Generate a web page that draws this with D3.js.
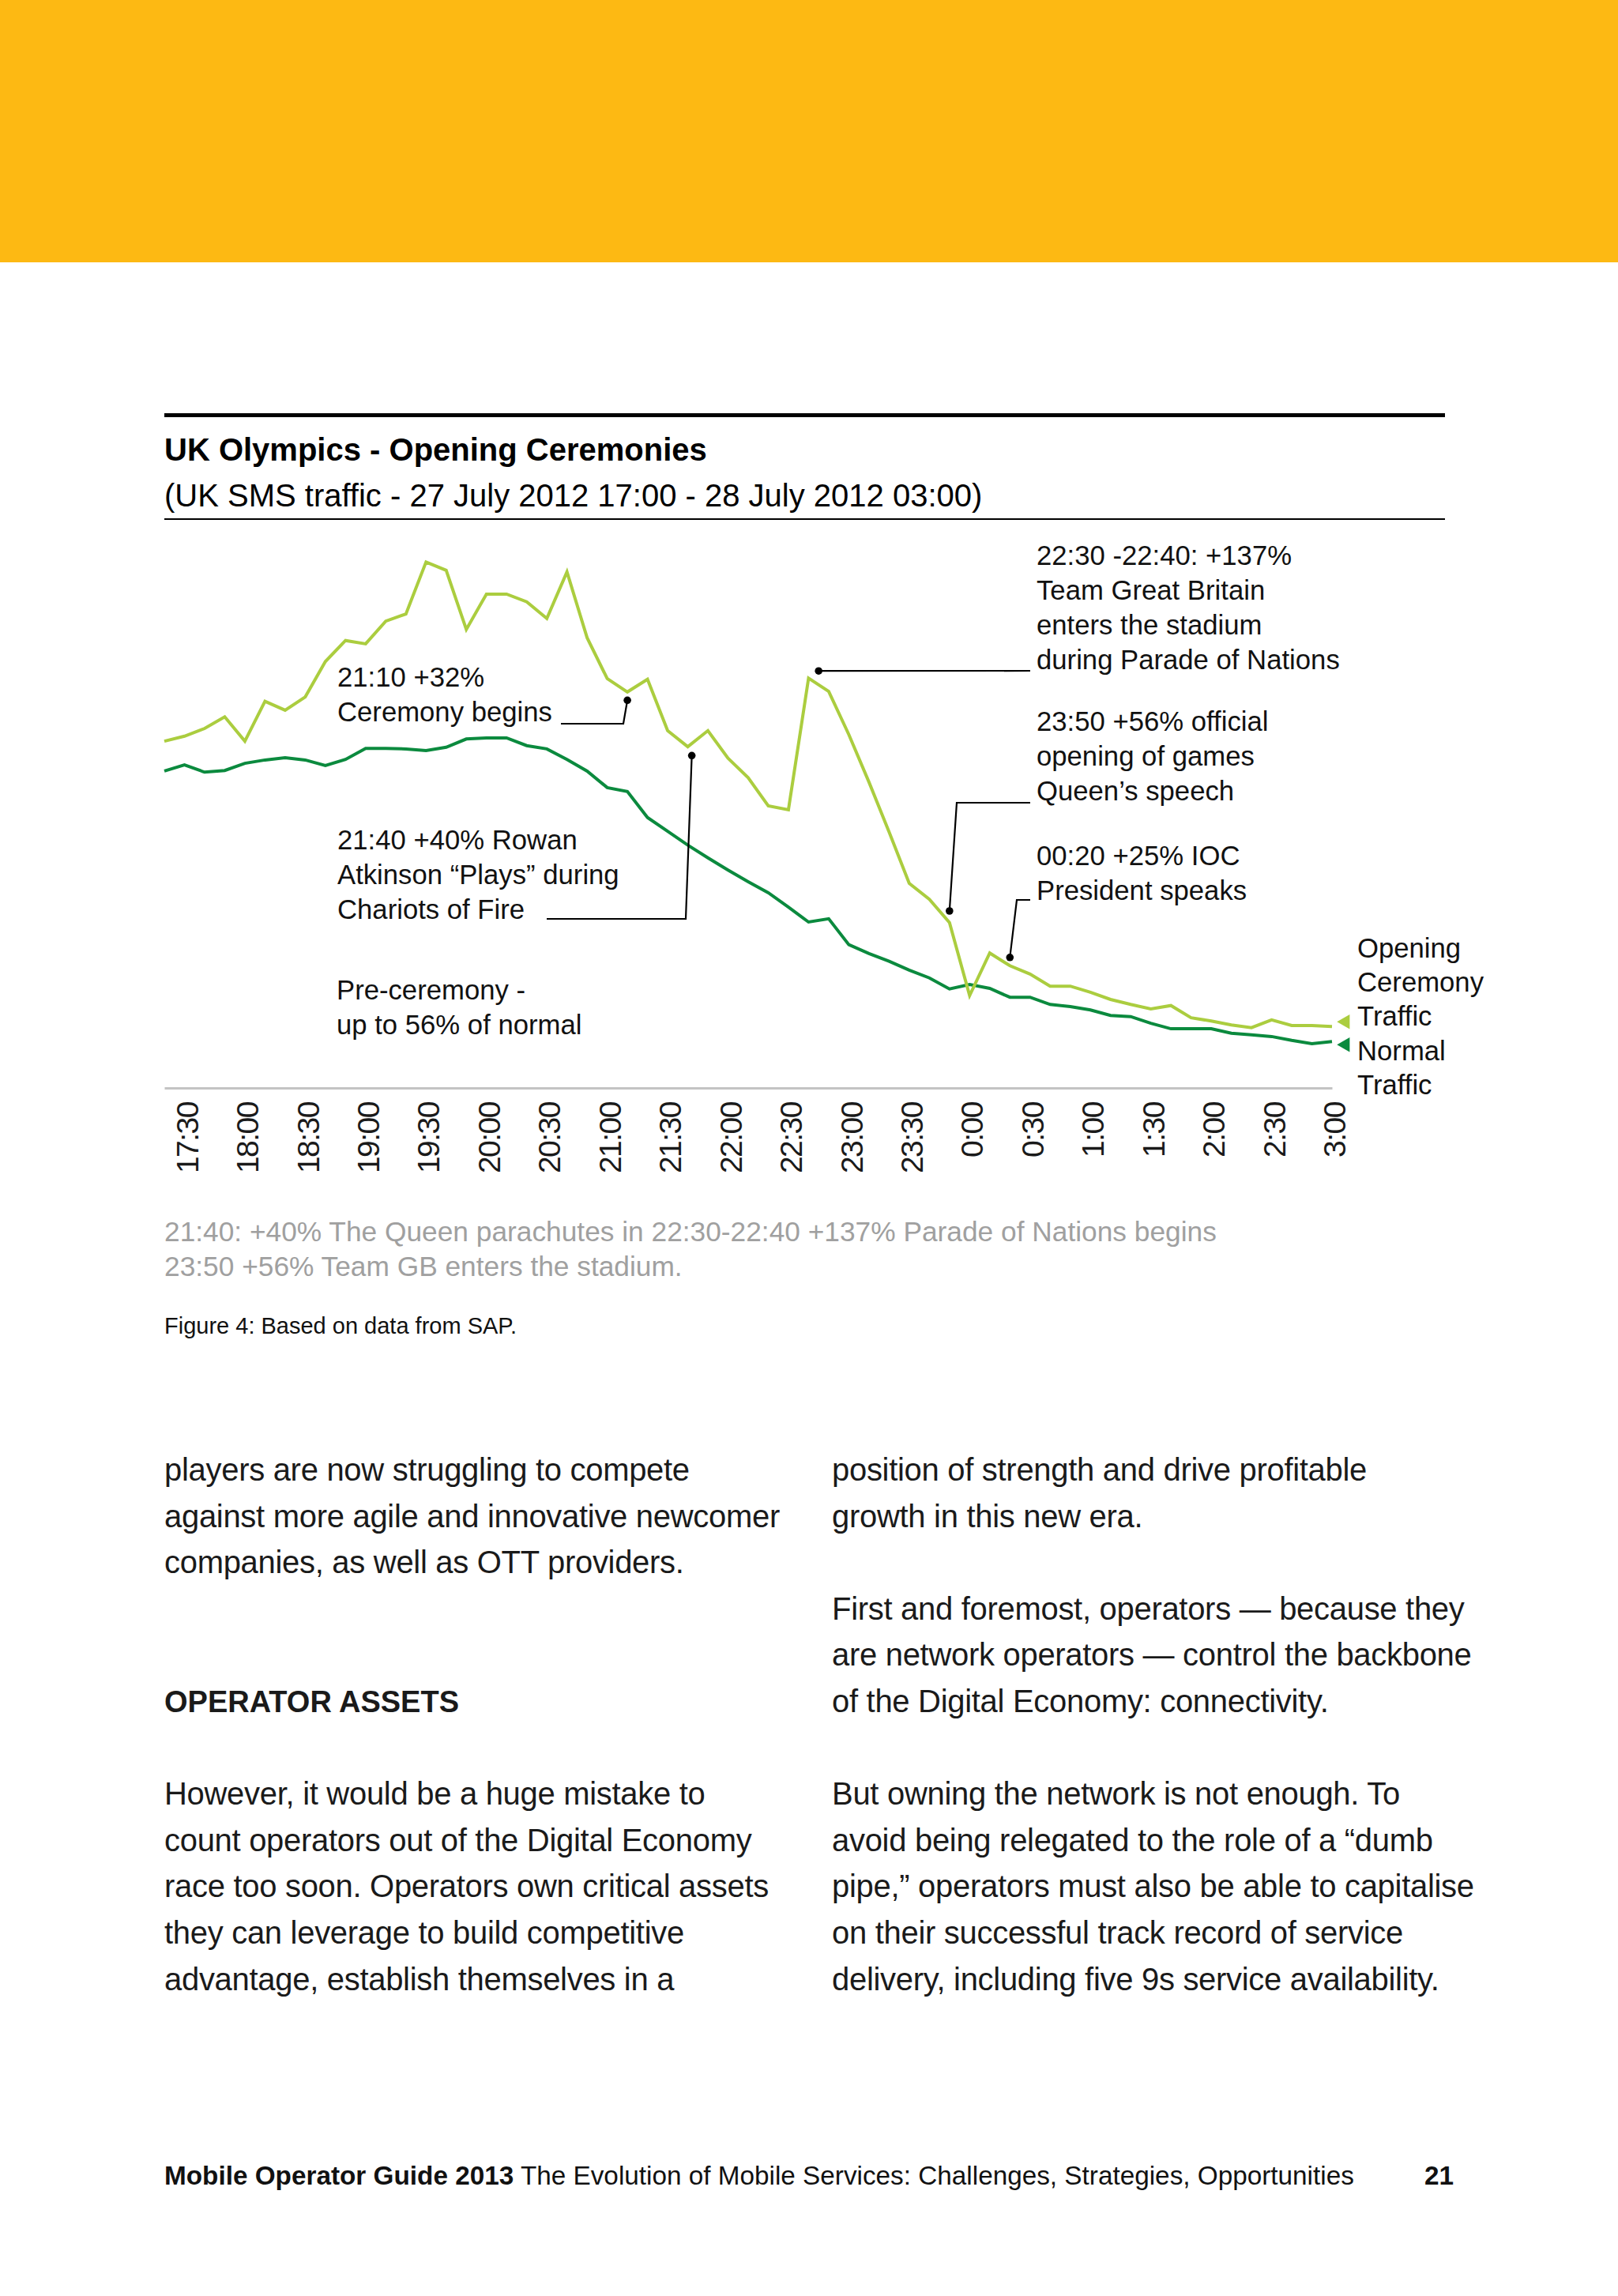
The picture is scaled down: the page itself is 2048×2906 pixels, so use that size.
<!DOCTYPE html>
<html>
<head>
<meta charset="utf-8">
<script src="https://cdn.jsdelivr.net/npm/d3@7"></script>
<style>
  body { margin: 0; background: #fff; }
  svg text { font-family: "Liberation Sans", Arial, sans-serif; }
</style>
</head>
<body>
<svg id="page" width="2048" height="2906"></svg>
<script>
// time of each sample (10 min steps), 27 Jul 17:20 -> 28 Jul 03:00
var times = ["17:20","17:30","17:40","17:50","18:00","18:10","18:20","18:30","18:40","18:50",
  "19:00","19:10","19:20","19:30","19:40","19:50","20:00","20:10","20:20","20:30",
  "20:40","20:50","21:00","21:10","21:20","21:30","21:40","21:50","22:00","22:10",
  "22:20","22:30","22:40","22:50","23:00","23:10","23:20","23:30","23:40","23:50",
  "0:00","0:10","0:20","0:30","0:40","0:50","1:00","1:10","1:20","1:30",
  "1:40","1:50","2:00","2:10","2:20","2:30","2:40","2:50","3:00"];

// SMS traffic index (no y axis in the original)
var openingTraffic = [62.7,63.6,65.0,67.1,62.7,69.9,68.3,70.7,77.1,80.9,
  80.3,84.4,85.7,95.1,93.6,82.9,89.3,89.3,87.9,84.9,
  93.3,81.4,74.0,71.6,73.9,64.6,61.7,64.6,59.6,56.1,
  51.0,50.3,74.1,71.7,63.9,55.3,46.3,37.0,34.1,29.9,
  16.7,24.4,22.1,20.6,18.4,18.4,17.3,16.0,15.1,14.3,
  14.9,12.7,12.1,11.4,10.9,12.3,11.3,11.3,11.1];
var normalTraffic = [57.3,58.4,57.1,57.4,58.7,59.3,59.7,59.3,58.3,59.4,
  61.4,61.4,61.3,61.0,61.6,63.1,63.3,63.3,61.9,61.3,
  59.4,57.3,54.3,53.6,48.9,46.4,43.9,41.6,39.4,37.3,
  35.3,32.7,30.0,30.6,25.9,24.3,22.9,21.3,19.9,17.9,
  18.7,18.0,16.4,16.4,15.1,14.7,14.1,13.1,12.9,11.7,
  10.7,10.7,10.7,9.9,9.6,9.3,8.6,8.0,8.4];

var tickLabels = ["17:30","18:00","18:30","19:00","19:30","20:00","20:30","21:00","21:30","22:00",
  "22:30","23:00","23:30","0:00","0:30","1:00","1:30","2:00","2:30","3:00"];

// annotated moments: time and value of the marker dot
var noteTimes = ["21:10","21:42","22:45","23:50","0:20"];
var noteValues = [70.1, 60.1, 75.4, 32.0, 23.6];
var noteTexts = [
  ["21:10 +32%", "Ceremony begins"],
  ["21:40 +40% Rowan", "Atkinson \u201cPlays\u201d during", "Chariots of Fire"],
  ["22:30 -22:40: +137%", "Team Great Britain", "enters the stadium", "during Parade of Nations"],
  ["23:50 +56% official", "opening of games", "Queen\u2019s speech"],
  ["00:20 +25% IOC", "President speaks"]
];
var legendLabels = ["Opening", "Ceremony", "Traffic", "Normal", "Traffic"];

var svg = d3.select("#page");
var lightGreen = "#abcd3f", darkGreen = "#0b8a3e";

function parseT(s){
	var p = s.split(":");
	var h = +p[0], m = +p[1];
	var day = h < 12 ? 28 : 27;
	return new Date(2012, 6, day, h, m);
}

// ---- page header band and title
svg.append("rect").attr("x",0).attr("y",0).attr("width",2048).attr("height",332).attr("fill","#fdb913");
svg.append("rect").attr("x",208).attr("y",523).attr("width",1621).attr("height",5).attr("fill","#000");
svg.append("text").attr("x",208).attr("y",583).attr("font-size",40).attr("font-weight","bold")
	.text("UK Olympics - Opening Ceremonies");
svg.append("text").attr("x",208).attr("y",641).attr("font-size",40)
	.text("(UK SMS traffic - 27 July 2012 17:00 - 28 July 2012 03:00)");
svg.append("rect").attr("x",208).attr("y",656).attr("width",1621).attr("height",2).attr("fill","#000");

// ---- scales
var x = d3.scaleTime().domain([parseT(times[0]), parseT(times[times.length-1])]).range([208, 1686]);
var y = d3.scaleLinear().domain([0, 100]).range([1377, 677]);

// ---- axis
var axis = d3.axisBottom(x)
	.tickValues(tickLabels.map(parseT))
	.tickFormat(function(d, i){ return tickLabels[i]; })
	.tickSize(0);
var gAxis = svg.append("g").attr("transform","translate(0," + y(0) + ")").call(axis);
gAxis.select(".domain").attr("stroke","#c4c4c4").attr("stroke-width",3);
gAxis.selectAll("text")
	.attr("transform","rotate(-90)")
	.attr("x",-18).attr("y",3).attr("dy","0.35em")
	.attr("text-anchor","end")
	.attr("font-size",39).attr("letter-spacing","-1.5px")
	.attr("fill","#1a1a1a")
	.style("font-family","'Liberation Sans', Arial, sans-serif");

// ---- lines
var line = d3.line()
	.x(function(d, i){ return x(parseT(times[i])); })
	.y(function(d){ return y(d); });

svg.append("path").datum(normalTraffic).attr("d", line)
	.attr("fill","none").attr("stroke",darkGreen).attr("stroke-width",4).attr("stroke-linejoin","miter");
svg.append("path").datum(openingTraffic).attr("d", line)
	.attr("fill","none").attr("stroke",lightGreen).attr("stroke-width",4).attr("stroke-linejoin","miter");

// ---- annotations
var textPos = [
	{x:427, y:869},
	{x:427, y:1075},
	{x:1312, y:715},
	{x:1312, y:925},
	{x:1312, y:1095}
];
// elbows of the leader lines (after the dot)
var leaders = [
	[[789,916],[710,916]],
	[[868,1163],[692,1163]],
	[[1304,849]],
	[[1211,1016],[1304,1016]],
	[[1287,1139],[1304,1139]]
];

noteTimes.forEach(function(t, i){
	var cx = x(parseT(t)), cy = y(noteValues[i]);
	var pts = [[cx, cy]].concat(leaders[i]);
	svg.append("path").attr("d", d3.line()(pts))
		.attr("fill","none").attr("stroke","#000").attr("stroke-width",2.2);
	svg.append("circle").attr("cx",cx).attr("cy",cy).attr("r",4.8).attr("fill","#000");

	var tx = svg.append("text").attr("font-size",34.7).attr("fill","#111");
	noteTexts[i].forEach(function(s, k){
		tx.append("tspan").attr("x",textPos[i].x).attr("y",textPos[i].y + k*44).text(s);
	});
});

var pre = svg.append("text").attr("font-size",34.7).attr("fill","#111");
pre.append("tspan").attr("x",426).attr("y",1265).text("Pre-ceremony -");
pre.append("tspan").attr("x",426).attr("y",1309).text("up to 56% of normal");

// ---- legend
var leg = svg.append("text").attr("font-size",34.7).attr("fill","#111");
legendLabels.forEach(function(s, k){
	leg.append("tspan").attr("x",1718).attr("y",1212 + k*43.2).text(s);
});
var tri = d3.symbol().type(d3.symbolTriangle).size(150);
var lastT = x(parseT(times[times.length-1]));
svg.append("path").attr("d",tri)
	.attr("transform","translate(" + (lastT + 17) + "," + (y(openingTraffic[openingTraffic.length-1]) - 6) + ") rotate(-90)")
	.attr("fill",lightGreen);
svg.append("path").attr("d",tri)
	.attr("transform","translate(" + (lastT + 17) + "," + (y(normalTraffic[normalTraffic.length-1]) + 4) + ") rotate(-90)")
	.attr("fill",darkGreen);

// ---- caption
var cap = svg.append("text").attr("font-size",35.3).attr("fill","#a0a0a0");
cap.append("tspan").attr("x",208).attr("y",1571).text("21:40: +40% The Queen parachutes in 22:30-22:40 +137% Parade of Nations begins");
cap.append("tspan").attr("x",208).attr("y",1615).text("23:50 +56% Team GB enters the stadium.");
svg.append("text").attr("x",208).attr("y",1688).attr("font-size",29).attr("fill","#111")
	.text("Figure 4: Based on data from SAP.");

// ---- body copy
var leftCol = [
	{t:"players are now struggling to compete", r:0},
	{t:"against more agile and innovative newcomer", r:1},
	{t:"companies, as well as OTT providers.", r:2},
	{t:"OPERATOR ASSETS", r:5, b:true},
	{t:"However, it would be a huge mistake to", r:7},
	{t:"count operators out of the Digital Economy", r:8},
	{t:"race too soon. Operators own critical assets", r:9},
	{t:"they can leverage to build competitive", r:10},
	{t:"advantage, establish themselves in a", r:11}
];
var rightCol = [
	{t:"position of strength and drive profitable", r:0},
	{t:"growth in this new era.", r:1},
	{t:"First and foremost, operators \u2014 because they", r:3},
	{t:"are network operators \u2014 control the backbone", r:4},
	{t:"of the Digital Economy: connectivity.", r:5},
	{t:"But owning the network is not enough. To", r:7},
	{t:"avoid being relegated to the role of a \u201cdumb", r:8},
	{t:"pipe,\u201d operators must also be able to capitalise", r:9},
	{t:"on their successful track record of service", r:10},
	{t:"delivery, including five 9s service availability.", r:11}
];
function bodyCol(rows, x0){
	svg.append("g").selectAll("text").data(rows).enter().append("text")
		.attr("x", x0)
		.attr("y", function(d){ return 1874 + d.r * 58.6; })
		.attr("font-size", function(d){ return d.b ? 38 : 40; })
		.attr("font-weight", function(d){ return d.b ? "bold" : "normal"; })
		.attr("letter-spacing", function(d){ return d.b ? 0 : -0.3; })
		.attr("fill","#1a1a1a")
		.text(function(d){ return d.t; });
}
bodyCol(leftCol, 208);
bodyCol(rightCol, 1053);

// ---- footer
var foot = svg.append("text").attr("x",208).attr("y",2765).attr("font-size",33.3).attr("fill","#111");
foot.append("tspan").attr("font-weight","bold").text("Mobile Operator Guide 2013");
foot.append("tspan").text(" The Evolution of Mobile Services: Challenges, Strategies, Opportunities");
svg.append("text").attr("x",1840).attr("y",2765).attr("text-anchor","end")
	.attr("font-size",33.3).attr("font-weight","bold").attr("fill","#111").text("21");
</script>
</body>
</html>
